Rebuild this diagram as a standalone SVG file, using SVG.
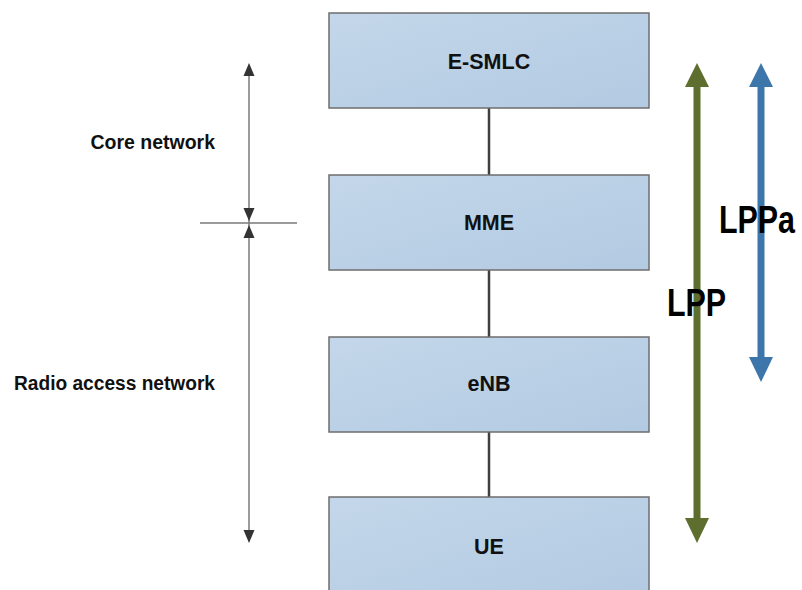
<svg xmlns="http://www.w3.org/2000/svg" width="802" height="590" viewBox="0 0 802 590">
  <style>
    .box { fill: url(#boxFill); stroke: #6e6e6e; stroke-width: 1.5; }
    .lbl { font-family: "Liberation Sans", Arial, sans-serif; font-weight: bold; font-size: 21.5px; fill: #111; text-anchor: middle; }
    .side { font-family: "Liberation Sans", Arial, sans-serif; font-weight: bold; font-size: 19.5px; fill: #111; text-anchor: end; }
    .proto { font-family: "Liberation Sans", Arial, sans-serif; font-weight: bold; font-size: 38px; fill: #000; }
    .link { stroke: #3f3f3f; stroke-width: 2.5; }
    .dim { stroke: #7a7a7a; stroke-width: 1.5; fill: none; }
    .tip { fill: #333; }
  </style>
  <defs>
    <linearGradient id="boxFill" x1="0" y1="0" x2="1" y2="1">
      <stop offset="0" stop-color="#c4d7ea"/>
      <stop offset="1" stop-color="#b2cae2"/>
    </linearGradient>
  </defs>
  <rect width="802" height="590" fill="#fff"/>

  <!-- links between the stacked entities -->
  <g id="connectors">
    <line class="link" x1="489" y1="108" x2="489" y2="175"/>
    <line class="link" x1="489" y1="270" x2="489" y2="337"/>
    <line class="link" x1="489" y1="432" x2="489" y2="497"/>
  </g>

  <g id="e-smlc">
    <rect class="box" x="329" y="13" width="320" height="95"/>
    <text class="lbl" x="489" y="69">E-SMLC</text>
  </g>
  <g id="mme">
    <rect class="box" x="329" y="175" width="320" height="95"/>
    <text class="lbl" x="489" y="230">MME</text>
  </g>
  <g id="enb">
    <rect class="box" x="329" y="337" width="320" height="95"/>
    <text class="lbl" x="489" y="391">eNB</text>
  </g>
  <g id="ue">
    <rect class="box" x="329" y="497" width="320" height="100"/>
    <text class="lbl" x="489" y="554">UE</text>
  </g>

  <!-- network-domain dimension markers -->
  <g id="domains">
    <line class="dim" x1="249" y1="66" x2="249" y2="540"/>
    <line class="dim" x1="200" y1="223" x2="297" y2="223"/>
    <polygon class="tip" points="249,63 243.5,76 254.5,76"/>
    <polygon class="tip" points="249,221 243.5,208 254.5,208"/>
    <polygon class="tip" points="249,225 243.5,238 254.5,238"/>
    <polygon class="tip" points="249,543 243.5,530 254.5,530"/>
    <text class="side" x="215" y="149">Core network</text>
    <text class="side" x="215" y="390" textLength="201" lengthAdjust="spacingAndGlyphs">Radio access network</text>
  </g>

  <!-- LPP span: E-SMLC to UE -->
  <g id="lpp">
    <rect x="693.5" y="86" width="7" height="433" fill="#5e6e2e"/>
    <polygon points="697,63 685,87 709,87" fill="#5e6e2e"/>
    <polygon points="697,543 685,518 709,518" fill="#5e6e2e"/>
    <text class="proto" transform="translate(667,316) scale(0.8,1)">LPP</text>
  </g>

  <!-- LPPa span: E-SMLC to eNB -->
  <g id="lppa">
    <rect x="757.5" y="86" width="7" height="272" fill="#3d76ab"/>
    <polygon points="761,63 749,87 773,87" fill="#3d76ab"/>
    <polygon points="761,382 749,357 773,357" fill="#3d76ab"/>
    <text class="proto" transform="translate(719,233) scale(0.8,1)">LPPa</text>
  </g>
</svg>
